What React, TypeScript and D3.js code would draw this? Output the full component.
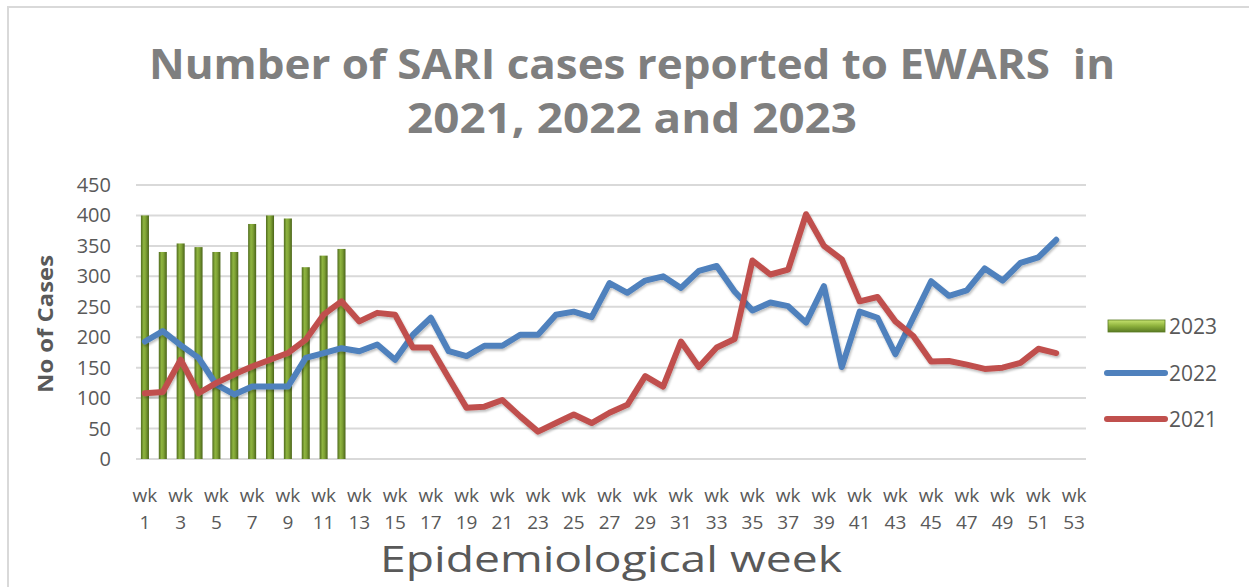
import React from "react";
import * as d3 from "d3";

// categories (epidemiological weeks) and series values
const weeks = d3.range(1, 54);
const cases2023 = [400, 340, 354, 348, 340, 340, 386, 400, 395, 315, 334, 345];
const cases2022 = [
  193, 210, 187, 166, 122, 106, 119, 119, 119, 166, 174, 182, 177, 188, 163, 204,
  232, 177, 169, 186, 186, 204, 204, 237, 242, 233, 289, 273, 293, 300, 281, 309,
  317, 275, 244, 257, 251, 224, 284, 151, 242, 232, 172, 232, 292, 268, 277, 313,
  293, 322, 331, 360,
];
const cases2021 = [
  108, 110, 163, 108, 125, 139, 152, 163, 174, 196, 237, 259, 226, 240, 237, 183,
  183, 133, 84, 86, 97, 70, 45, 59, 73, 59, 76, 89, 136, 119, 193, 151,
  183, 197, 326, 303, 311, 402, 350, 328, 259, 266, 226, 202, 160, 161, 155, 148,
  150, 158, 181, 174,
];
const yTicks = [0, 50, 100, 150, 200, 250, 300, 350, 400, 450];

export default function App() {
  const width = 1249;
  const height = 587;
  const marginLeft = 136;
  const marginRight = 166;
  const marginTop = 185;
  const marginBottom = 128;

  const x = d3
    .scaleBand<number>()
    .domain(weeks)
    .range([marginLeft, width - marginRight])
    .paddingInner(0.55)
    .paddingOuter(0.275);
  const xc = (w: number) => (x(w) ?? 0) + x.bandwidth() / 2;
  const y = d3.scaleLinear([0, 450], [height - marginBottom, marginTop]);

  const line = d3
    .line<number>()
    .x((_, i) => xc(weeks[i]))
    .y((d) => y(d));

  const textGray = "#595959";
  const font = "'Open Sans', sans-serif";

  return (
    <svg
      width={width}
      height={height}
      style={{ position: "absolute", left: 0, top: 0, background: "#fff" }}
    >
      <defs>
        <linearGradient id="barGrad" x1="0" x2="1" y1="0" y2="0">
          <stop offset="0" stopColor="#4f6b1e" />
          <stop offset="0.35" stopColor="#8fb540" />
          <stop offset="0.6" stopColor="#7fa235" />
          <stop offset="1" stopColor="#4a6419" />
        </linearGradient>
        <linearGradient id="legGrad" x1="0" x2="0" y1="0" y2="1">
          <stop offset="0" stopColor="#c6e36f" />
          <stop offset="0.5" stopColor="#8db13c" />
          <stop offset="1" stopColor="#5a7a23" />
        </linearGradient>
        <filter id="shadow" x="-5%" y="-10%" width="110%" height="130%">
          <feDropShadow dx="1" dy="2" stdDeviation="1.2" floodColor="#000" floodOpacity="0.25" />
        </filter>
      </defs>

      {/* outer chart border */}
      <rect x={8} y={7} width={1250} height={600} fill="none" stroke="#d9d9d9" strokeWidth={2} />

      {/* title */}
      <text
        x={632}
        y={79}
        textAnchor="middle"
        fontFamily={font}
        fontWeight="bold"
        fontSize={41}
        fill="#7f7f7f"
        textLength={966}
        lengthAdjust="spacingAndGlyphs"
        xmlSpace="preserve"
      >
        {"Number of SARI cases reported to EWARS  in"}
      </text>
      <text
        x={632}
        y={133}
        textAnchor="middle"
        fontFamily={font}
        fontWeight="bold"
        fontSize={41}
        fill="#7f7f7f"
        textLength={450}
        lengthAdjust="spacingAndGlyphs"
      >
        2021, 2022 and 2023
      </text>

      {/* grid lines */}
      {yTicks.map((t) => (
        <line
          key={t}
          x1={marginLeft}
          x2={width - marginRight + 3}
          y1={y(t)}
          y2={y(t)}
          stroke="#d9d9d9"
          strokeWidth={2}
        />
      ))}

      {/* y tick labels */}
      {yTicks.map((t) => (
        <text
          key={t}
          x={111}
          y={y(t) + 7}
          textAnchor="end"
          fontFamily={font}
          fontSize={20}
          fill={textGray}
        >
          {t}
        </text>
      ))}

      {/* y axis title */}
      <text
        transform={`translate(53,324) rotate(-90)`}
        textAnchor="middle"
        fontFamily={font}
        fontWeight="bold"
        fontSize={21}
        fill={textGray}
        textLength={138}
        lengthAdjust="spacingAndGlyphs"
      >
        No of Cases
      </text>

      {/* 2023 bars */}
      {cases2023.map((v, i) => (
        <rect
          key={i}
          x={x(weeks[i])}
          y={y(v)}
          width={x.bandwidth()}
          height={y(0) - y(v)}
          fill="url(#barGrad)"
        />
      ))}

      {/* 2022 and 2021 lines */}
      <path
        d={line(cases2022) ?? ""}
        fill="none"
        stroke="#4f81bd"
        strokeWidth={6}
        strokeLinejoin="round"
        strokeLinecap="round"
        filter="url(#shadow)"
      />
      <path
        d={line(cases2021) ?? ""}
        fill="none"
        stroke="#c0504d"
        strokeWidth={6}
        strokeLinejoin="round"
        strokeLinecap="round"
        filter="url(#shadow)"
      />

      {/* x tick labels: every second week */}
      {weeks
        .filter((w) => w % 2 === 1)
        .map((w) => (
          <g key={w} fontFamily={font} fontSize={19} fill={textGray} textAnchor="middle">
            <text x={xc(w)} y={502}>
              wk
            </text>
            <text x={xc(w)} y={529}>
              {w}
            </text>
          </g>
        ))}

      {/* x axis title */}
      <text
        x={611}
        y={572}
        textAnchor="middle"
        fontFamily={font}
        fontSize={36}
        fill={textGray}
        textLength={462}
        lengthAdjust="spacingAndGlyphs"
      >
        Epidemiological week
      </text>

      {/* legend */}
      <g fontFamily={font} fontSize={21} fill={textGray}>
        <rect x={1108} y={320} width={57} height={12} fill="url(#legGrad)" stroke="#5a7a23" strokeWidth={0.8} />
        <text x={1169} y={334}>2023</text>
        <line x1={1107} x2={1165} y1={373} y2={373} stroke="#4f81bd" strokeWidth={6} strokeLinecap="round" />
        <text x={1169} y={381}>2022</text>
        <line x1={1107} x2={1165} y1={419} y2={419} stroke="#c0504d" strokeWidth={6} strokeLinecap="round" />
        <text x={1169} y={427}>2021</text>
      </g>
    </svg>
  );
}
